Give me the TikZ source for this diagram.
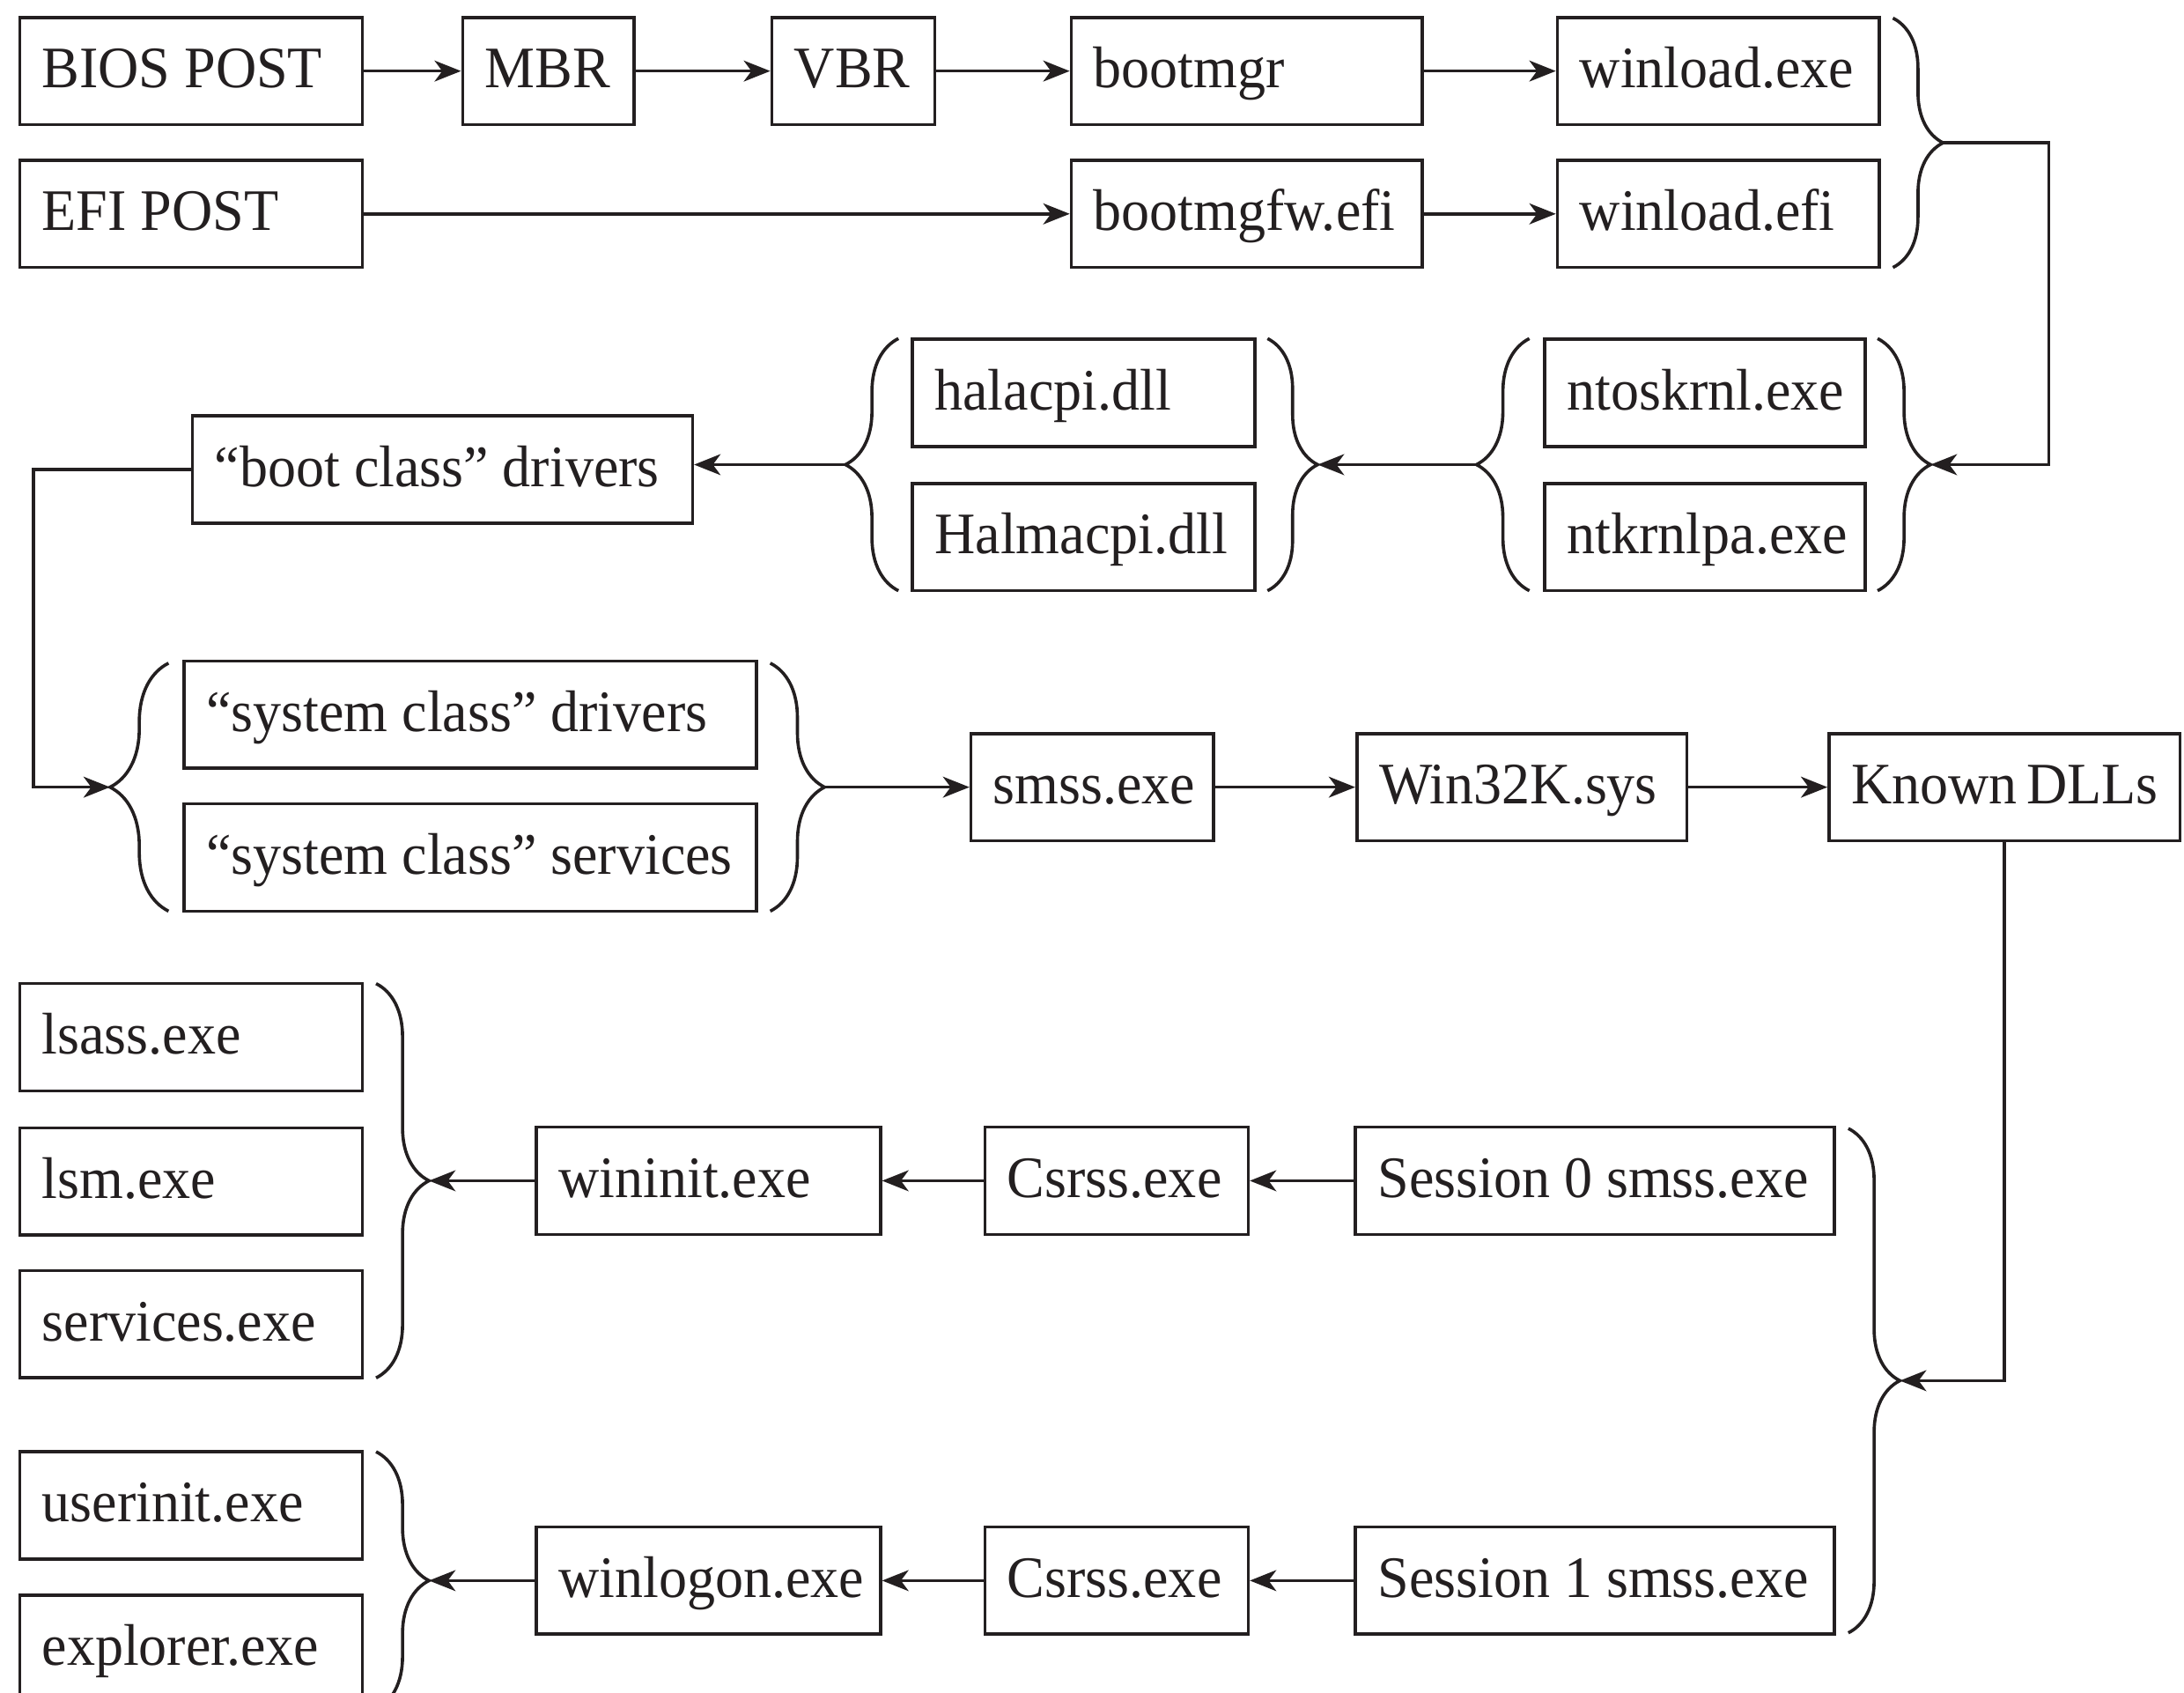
\documentclass[tikz,border=0pt]{standalone}
\usepackage{fontspec}
\setmainfont{Liberation Serif}[FakeStretch=0.96]
\usetikzlibrary{arrows.meta, decorations.pathreplacing}
\definecolor{ink}{HTML}{231F20}
\hyphenpenalty=10000
\tikzset{
  box/.style={
    rectangle, draw=ink, line width=0.65pt, anchor=west,
    minimum height=0.77cm, inner xsep=0.16cm, inner ysep=0pt,
    text height=0.32cm, text depth=0.08cm, align=flush left, text=ink,
    font=\fontsize{12}{14}\selectfont
  },
  flow/.style={draw=ink, line width=0.65pt,
    -{Stealth[length=1.9mm, width=1.5mm, inset=0.55mm]}},
  grp/.style={draw=ink, line width=0.65pt,
    decorate, decoration={brace, amplitude=#1}},
  grp/.default=0.38cm
}

\begin{document}
\begin{tikzpicture}
  \useasboundingbox (0,0) rectangle (15.68,-12.15);

  % ---- Loaders ---------------------------------------------------------------
  \node[box, text width=2.14cm] (bios)     at (0.13,  -0.51) {BIOS~POST};
  \node[box, text width=0.91cm] (mbr)      at (3.31,  -0.51) {MBR};
  \node[box, text width=0.85cm] (vbr)      at (5.53,  -0.51) {VBR};
  \node[box, text width=2.20cm] (bootmgr)  at (7.68,  -0.51) {bootmgr};
  \node[box, text width=1.99cm] (wlexe)    at (11.17, -0.51) {winload.exe};
  \node[box, text width=2.14cm] (efi)      at (0.13,  -1.535) {EFI~POST};
  \node[box, text width=2.20cm] (bootfw)   at (7.68,  -1.535) {bootmgfw.efi};
  \node[box, text width=1.99cm] (wlefi)    at (11.17, -1.535) {winload.efi};

  % ---- Kernel and HAL ----------------------------------------------------------
  \node[box, text width=1.98cm] (ntos)     at (11.08, -2.82)  {ntoskrnl.exe};
  \node[box, text width=1.98cm] (ntpa)     at (11.08, -3.855) {ntkrnlpa.exe};
  \node[box, text width=2.14cm] (hal)      at (6.54,  -2.82)  {halacpi.dll};
  \node[box, text width=2.14cm] (halm)     at (6.54,  -3.855) {Halmacpi.dll};
  \node[box, text width=3.27cm] (bootdrv)  at (1.37,  -3.37)  {``boot~class''~drivers};

  % ---- System start ------------------------------------------------------------
  \node[box, text width=3.79cm] (sysdrv)   at (1.31,  -5.13)  {``system~class''~drivers};
  \node[box, text width=3.79cm] (syssvc)   at (1.31,  -6.155) {``system~class''~services};
  \node[box, text width=1.42cm] (smss)     at (6.96,  -5.65)  {smss.exe};
  \node[box, text width=2.05cm] (win32k)   at (9.73,  -5.65)  {Win32K.sys};
  \node[box, text width=2.20cm] (known)    at (13.12, -5.65)  {Known~DLLs};

  % ---- Sessions ------------------------------------------------------------------
  \node[box, text width=3.12cm] (ses0)     at (9.72,  -8.475) {Session~0~smss.exe};
  \node[box, text width=1.57cm] (csrss0)   at (7.06,  -8.475) {Csrss.exe};
  \node[box, text width=2.15cm] (wininit)  at (3.84,  -8.475) {wininit.exe};
  \node[box, text width=2.14cm] (lsass)    at (0.13,  -7.445) {lsass.exe};
  \node[box, text width=2.14cm] (lsm)      at (0.13,  -8.48)  {lsm.exe};
  \node[box, text width=2.14cm] (services) at (0.13,  -9.505) {services.exe};

  \node[box, text width=3.12cm] (ses1)     at (9.72,  -11.345) {Session~1~smss.exe};
  \node[box, text width=1.57cm] (csrss1)   at (7.06,  -11.345) {Csrss.exe};
  \node[box, text width=2.15cm] (winlogon) at (3.84,  -11.345) {winlogon.exe};
  \node[box, text width=2.14cm] (userinit) at (0.13,  -10.805) {userinit.exe};
  \node[box, text width=2.14cm] (explorer) at (0.13,  -11.835) {explorer.exe};

  % ---- Braces (tips named for the connectors) ------------------------------------
  \draw[grp=0.36cm] (13.59, -0.13) -- (13.59, -1.92);
  \coordinate (ldrTip) at (13.95, -1.025);
  \draw[grp] (13.48, -2.43) -- (13.48, -4.24);
  \coordinate (krnR) at (13.86, -3.335);
  \draw[grp] (10.98, -4.24) -- (10.98, -2.43);
  \coordinate (krnL) at (10.60, -3.335);
  \draw[grp=0.36cm] (9.10, -2.43) -- (9.10, -4.24);
  \coordinate (halR) at (9.46, -3.335);
  \draw[grp] (6.45, -4.24) -- (6.45, -2.43);
  \coordinate (halL) at (6.07, -3.335);
  \draw[grp=0.42cm] (1.21, -6.54) -- (1.21, -4.76);
  \coordinate (sysL) at (0.79, -5.65);
  \draw[grp=0.39cm] (5.53, -4.76) -- (5.53, -6.54);
  \coordinate (sysR) at (5.92, -5.65);
  \draw[grp=0.37cm] (13.27, -8.10) -- (13.27, -11.72);
  \coordinate (sesR) at (13.64, -9.91);
  \draw[grp] (2.70, -7.06) -- (2.70, -9.89);
  \coordinate (initR) at (3.08, -8.475);
  \draw[grp] (2.70, -10.42) -- (2.70, -12.27);
  \coordinate (logonR) at (3.08, -11.345);

  % ---- Connectors ------------------------------------------------------------------
  \draw[flow] (bios) -- (mbr);
  \draw[flow] (mbr) -- (vbr);
  \draw[flow] (vbr) -- (bootmgr);
  \draw[flow] (bootmgr) -- (wlexe);
  \draw[flow] (efi) -- (bootfw);
  \draw[flow] (bootfw) -- (wlefi);

  \draw[flow] (ldrTip) -- ++(0.76,0) |- (krnR);
  \draw[flow] (krnL) -- (halR);
  \draw[flow] (halL) -- (halL -| bootdrv.east);
  \draw[flow] (bootdrv.west) -- ++(-1.13,0) |- (sysL);
  \draw[flow] (sysR) -- (smss);
  \draw[flow] (smss) -- (win32k);
  \draw[flow] (win32k) -- (known);
  \draw[flow] (known.south) |- (sesR);

  \draw[flow] (ses0) -- (csrss0);
  \draw[flow] (csrss0) -- (wininit);
  \draw[flow] (wininit) -- (initR);
  \draw[flow] (ses1) -- (csrss1);
  \draw[flow] (csrss1) -- (winlogon);
  \draw[flow] (winlogon) -- (logonR);

\end{tikzpicture}
\end{document}
